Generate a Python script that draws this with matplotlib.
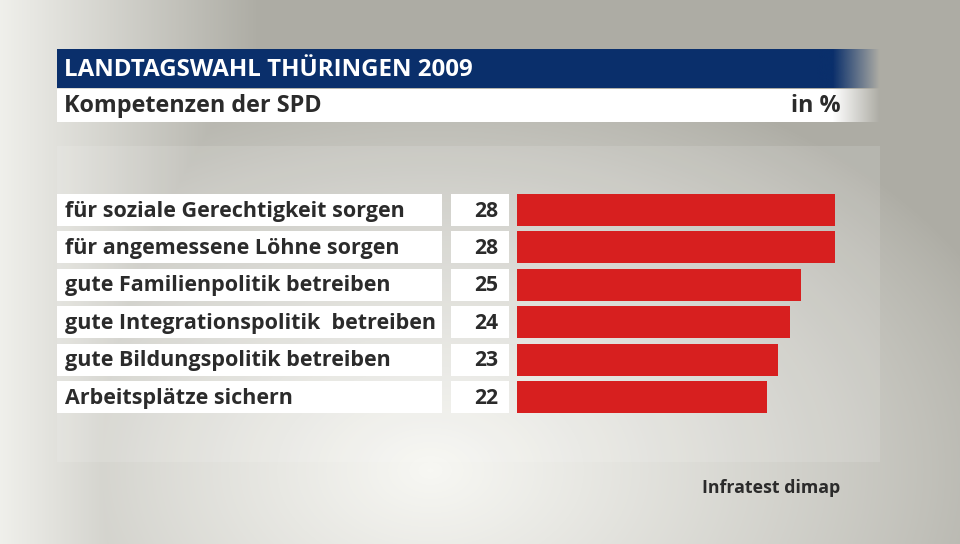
import numpy as np
import matplotlib.pyplot as plt
from matplotlib.colors import LinearSegmentedColormap
from matplotlib.patches import Rectangle

labels = ["für soziale Gerechtigkeit sorgen", "für angemessene Löhne sorgen",
          "gute Familienpolitik betreiben", "gute Integrationspolitik  betreiben",
          "gute Bildungspolitik betreiben", "Arbeitsplätze sichern"]
values = [28, 28, 25, 24, 23, 22]

title = "LANDTAGSWAHL THÜRINGEN 2009"
subtitle = "Kompetenzen der SPD"
unit = "in %"
source = "Infratest dimap"

W, H = 960, 544
navy = "#0a2f6b"
red = "#d71f1f"
txt = "#2b2b2b"
font = "Open Sans"

fig = plt.figure(figsize=(W / 100, H / 100), dpi=100)

# background in pixel coordinates
bg = fig.add_axes([0, 0, 1, 1])
bg.axis("off")
yy, xx = np.mgrid[0:H, 0:W]
d = np.sqrt(((xx - 430) / 620) ** 2 + ((yy - 470) / 420) ** 2)
light = np.clip(1 - d, 0, 1) ** 0.8
light = np.maximum(light, np.clip(1 - xx / 260, 0, 1) * 0.9)
cmap = LinearSegmentedColormap.from_list("bg", ["#adaca4", "#f7f7f3"])
bg.imshow(light, cmap=cmap, extent=(0, W, H, 0), aspect="auto", vmin=0, vmax=1)

# light panel behind bars
bg.add_patch(Rectangle((57, 146), 823, 316, color="white", alpha=0.12, lw=0))

# title bar and subtitle bar, both fading out on the right
navy_c = np.array([10, 47, 107]) / 255
img = np.zeros((1, 120, 4))
img[..., :3] = navy_c
img[..., 3] = np.concatenate([np.ones(30), np.linspace(1, 0, 90)])
bg.add_patch(Rectangle((57, 49), 760, 39, color=navy, lw=0))
bg.imshow(img, extent=(817, 880, 88, 49), aspect="auto")
img2 = np.ones((1, 120, 4))
img2[..., 3] = np.concatenate([np.ones(30), np.linspace(1, 0, 90)])
bg.add_patch(Rectangle((57, 89), 760, 33, color="white", lw=0))
bg.imshow(img2, extent=(817, 880, 122, 89), aspect="auto")
bg.set_xlim(0, W)
bg.set_ylim(H, 0)

bg.text(64, 70, title, color="white", fontsize=17.4, fontweight="bold",
        family=font, va="center", ha="left")
bg.text(64, 106, subtitle, color=txt, fontsize=16.8, fontweight="bold",
        family=font, va="center", ha="left")
bg.text(841, 106, unit, color=txt, fontsize=16.8, fontweight="bold",
        family=font, va="center", ha="right")
bg.text(840, 488, source, color=txt, fontsize=12.8, fontweight="bold",
        family=font, va="center", ha="right")

# bar axes: x=0 at px 517, x=28 at px 835
x0, x1 = 517, 835
pitch = 37.4
top = 210 - pitch / 2
n = len(values)
ax = fig.add_axes([x0 / W, 1 - (top + n * pitch) / H, (x1 - x0) / W, n * pitch / H])
ax.set_xlim(0, 28)
ax.set_ylim(n - 0.5, -0.5)
ax.axis("off")

def px(x):
    return (x - x0) / (x1 - x0) * 28

ypos = np.arange(n)
h = 32 / pitch
ax.barh(ypos, values, height=h, color=red, lw=0)
ax.barh(ypos, px(442) - px(57), left=px(57), height=h, color="white", lw=0, clip_on=False)
ax.barh(ypos, px(509) - px(451), left=px(451), height=h, color="white", lw=0, clip_on=False)
for i, (lab, v) in enumerate(zip(labels, values)):
    ax.text(px(65), i + 0.03, lab, color=txt, fontsize=15.5,
            fontweight="bold", family=font, va="center", ha="left", clip_on=False)
    ax.text(px(498), i + 0.03, str(v), color=txt, fontsize=15.2, fontweight="bold",
            family=font, va="center", ha="right", clip_on=False)

fig.savefig("out.png", dpi=100)
